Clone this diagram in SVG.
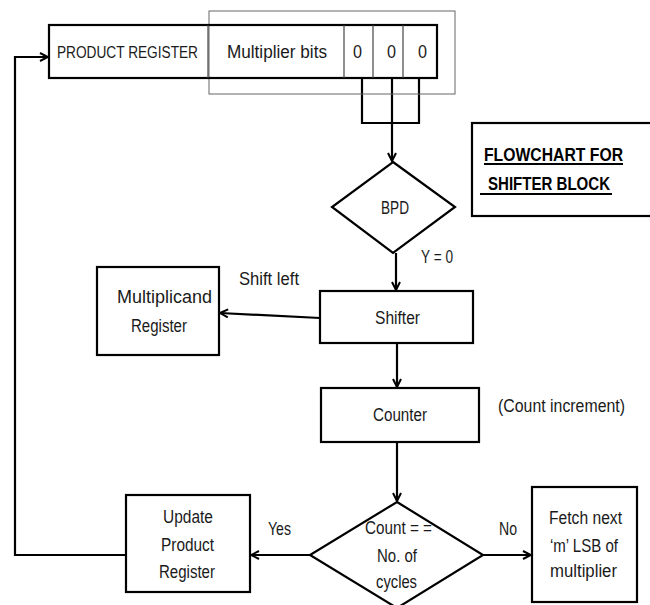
<svg xmlns="http://www.w3.org/2000/svg" width="650" height="605" viewBox="0 0 650 605">
  <style>
    .box { fill: #ffffff; stroke: #000000; stroke-width: 2.2; }
    .cell { fill: none; stroke: #444444; stroke-width: 1.2; }
    .frame { fill: none; stroke: #666666; stroke-width: 1; }
    .wire { fill: none; stroke: #000000; stroke-width: 2.2; }
    .arrow { fill: none; stroke: #000000; stroke-width: 2.2; marker-end: url(#chev); }
    text { font-family: "Liberation Sans", Arial, sans-serif; font-size: 17.5px; fill: #1a1a1a; }
    .caps { font-size: 16px; }
    .title { font-weight: bold; font-size: 18px; fill: #000000; }
    .rule { stroke: #000000; stroke-width: 2.2; }
  </style>
  <defs>
    <marker id="chev" viewBox="0 0 10 10" refX="9" refY="5" markerWidth="10" markerHeight="10" markerUnits="userSpaceOnUse" orient="auto">
      <path d="M1,1 L9,5 L1,9" fill="none" stroke="#000000" stroke-width="2"/>
    </marker>
  </defs>

  <!-- connectors -->
  <g id="connectors">
    <!-- taps on the three low bits -->
    <path class="wire" d="M362,78 V123 H419 V78"/>
    <path class="arrow" d="M392,78 V161"/>
    <path class="arrow" d="M396,253 V290"/>
    <path class="arrow" d="M320,318 L220,313"/>
    <path class="arrow" d="M397,343 V387"/>
    <path class="arrow" d="M397,442 V501"/>
    <path class="arrow" d="M310,555 H251"/>
    <path class="arrow" d="M483,555 H531"/>
    <!-- feedback loop to the product register -->
    <path class="arrow" d="M126,555 H15 V57 H48"/>
  </g>

  <!-- product register with multiplier bits -->
  <g id="product-register">
    <rect class="frame" x="209" y="11" width="246" height="83"/>
    <rect x="49" y="25" width="388" height="53" fill="none" stroke="#000000" stroke-width="2.2"/>
    <line class="cell" x1="208" y1="25" x2="208" y2="78"/>
    <line class="cell" x1="344" y1="25" x2="344" y2="78"/>
    <line class="cell" x1="373" y1="25" x2="373" y2="78"/>
    <line class="cell" x1="403" y1="25" x2="403" y2="78"/>
    <text class="caps" x="57" y="58" textLength="141" lengthAdjust="spacingAndGlyphs">PRODUCT REGISTER</text>
    <text x="227" y="58" textLength="100" lengthAdjust="spacingAndGlyphs">Multiplier bits</text>
    <text x="353" y="58" textLength="9" lengthAdjust="spacingAndGlyphs">0</text>
    <text x="387" y="58" textLength="9" lengthAdjust="spacingAndGlyphs">0</text>
    <text x="418" y="58" textLength="9" lengthAdjust="spacingAndGlyphs">0</text>
  </g>

  <!-- title -->
  <g id="title">
    <rect class="box" x="472" y="123" width="182" height="93"/>
    <text class="title" x="484" y="161" textLength="139" lengthAdjust="spacingAndGlyphs">FLOWCHART FOR</text>
    <line class="rule" x1="484" y1="164" x2="623" y2="164"/>
    <text class="title" x="488" y="190" textLength="122" lengthAdjust="spacingAndGlyphs">SHIFTER BLOCK</text>
    <line class="rule" x1="480" y1="194" x2="612" y2="194"/>
  </g>

  <!-- BPD decision -->
  <g id="bpd">
    <polygon class="box" points="393,162 455,207 393,253 332,207"/>
    <text x="381" y="214" textLength="28" lengthAdjust="spacingAndGlyphs">BPD</text>
    <text x="421" y="263" textLength="32" lengthAdjust="spacingAndGlyphs">Y = 0</text>
  </g>

  <!-- shifter -->
  <g id="shifter">
    <rect class="box" x="320" y="291" width="153" height="52"/>
    <text x="375" y="324" textLength="45" lengthAdjust="spacingAndGlyphs">Shifter</text>
    <text x="239" y="285" textLength="60" lengthAdjust="spacingAndGlyphs">Shift left</text>
  </g>

  <!-- multiplicand register -->
  <g id="multiplicand-register">
    <rect class="box" x="97" y="267" width="122" height="88"/>
    <text x="117" y="303" textLength="95" lengthAdjust="spacingAndGlyphs">Multiplicand</text>
    <text x="131" y="332" textLength="56" lengthAdjust="spacingAndGlyphs">Register</text>
  </g>

  <!-- counter -->
  <g id="counter">
    <rect class="box" x="321" y="388" width="158" height="54"/>
    <text x="373" y="421" textLength="54" lengthAdjust="spacingAndGlyphs">Counter</text>
    <text x="498" y="412" textLength="127" lengthAdjust="spacingAndGlyphs">(Count increment)</text>
  </g>

  <!-- cycle count decision -->
  <g id="count-check">
    <polygon class="box" points="397,502 483,555 397,608 310,555"/>
    <text x="365" y="534" textLength="67" lengthAdjust="spacingAndGlyphs">Count = =</text>
    <text x="377" y="562" textLength="40" lengthAdjust="spacingAndGlyphs">No. of</text>
    <text x="376" y="588" textLength="41" lengthAdjust="spacingAndGlyphs">cycles</text>
    <text x="268" y="535" textLength="23" lengthAdjust="spacingAndGlyphs">Yes</text>
    <text x="499" y="535" textLength="18" lengthAdjust="spacingAndGlyphs">No</text>
  </g>

  <!-- update product register -->
  <g id="update-product-register">
    <rect class="box" x="126" y="495" width="124" height="97"/>
    <text x="163" y="523" textLength="50" lengthAdjust="spacingAndGlyphs">Update</text>
    <text x="161" y="551" textLength="53" lengthAdjust="spacingAndGlyphs">Product</text>
    <text x="159" y="578" textLength="56" lengthAdjust="spacingAndGlyphs">Register</text>
  </g>

  <!-- fetch next bits -->
  <g id="fetch-next">
    <rect class="box" x="532" y="487" width="105" height="115"/>
    <text x="549" y="524" textLength="73" lengthAdjust="spacingAndGlyphs">Fetch next</text>
    <text x="550" y="552" textLength="68" lengthAdjust="spacingAndGlyphs">‘m’ LSB of</text>
    <text x="550" y="577" textLength="67" lengthAdjust="spacingAndGlyphs">multiplier</text>
  </g>
</svg>
